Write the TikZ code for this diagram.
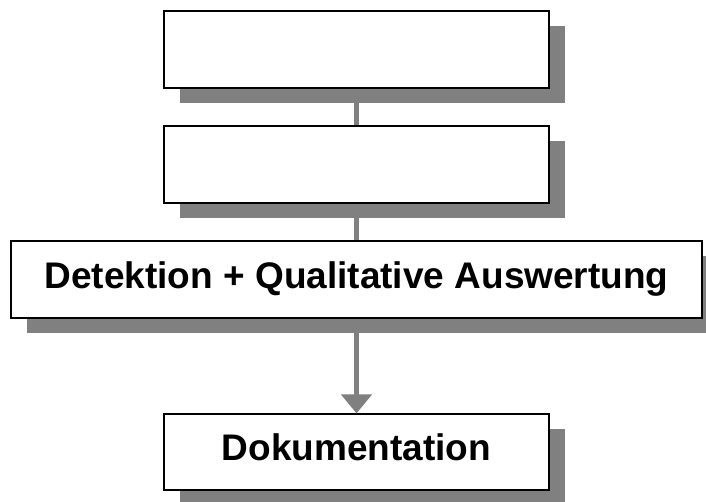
\documentclass[tikz,border=0pt]{standalone}
\usepackage{fontspec}
\setmainfont{Liberation Sans}
\usetikzlibrary{arrows.meta,shadows}
\definecolor{shadowgray}{RGB}{128,128,128}
\begin{document}
\begin{tikzpicture}[x=1pt,y=-1pt,
  box/.style={draw=black, fill=white, rectangle, inner sep=0pt,
    minimum width=385pt, minimum height=77pt, line width=1.6pt,
    drop shadow={shadow xshift=16pt, shadow yshift=-15pt, fill=shadowgray, opacity=1}},
  txtbox/.style={box, line width=1.2pt, font=\bfseries\fontsize{37}{44}\selectfont,
    text height=26pt, text depth=9pt},
  conn/.style={draw=shadowgray, line width=5pt}]
\useasboundingbox (0,0) rectangle (706,501);
\node[box] (b1) at (356.5,49.5) {};
\node[box] (b2) at (356.5,164.5) {};
\node[txtbox, minimum width=691pt] (b3) at (356.5,279.5) {Detektion + Qualitative Auswertung};
\node[txtbox, minimum height=76pt] (b4) at (356.5,452) {Dokumentation};
\draw[conn] (b1.south) -- (b2.north);
\draw[conn] (b2.south) -- (b3.north);
\draw[conn, -{Triangle[width=30pt,length=19pt]}, shadowgray] (b3.south) -- (b4.north);
\end{tikzpicture}
\end{document}
